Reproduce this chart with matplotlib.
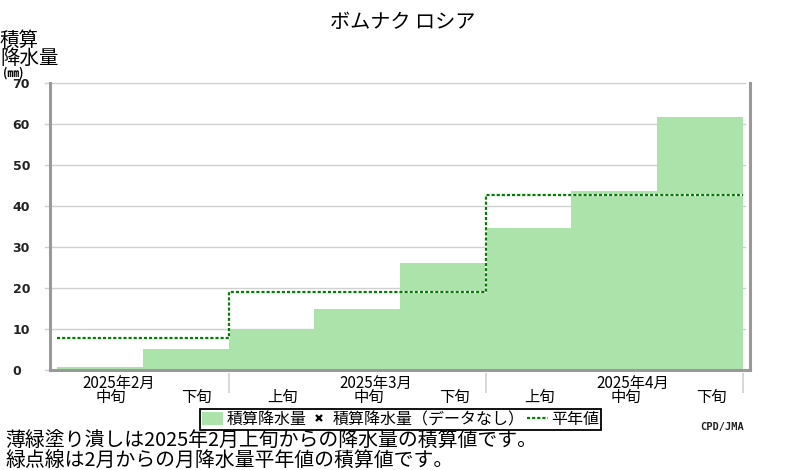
import numpy as np
import matplotlib
matplotlib.use('Agg')
import matplotlib.pyplot as plt
import matplotlib.transforms as mtransforms
from matplotlib.patches import Patch
from matplotlib.lines import Line2D

plt.rcParams['font.family'] = ['Noto Sans CJK JP', 'DejaVu Sans']

# du lieu doc tu hinh
tieu_de = 'ボムナク ロシア'
thang = ['2025年2月', '2025年3月', '2025年4月']
tuan = ['中旬', '下旬', '上旬', '中旬', '下旬', '上旬', '中旬', '下旬']
luong_mua = [0.8, 5.2, 10.0, 14.9, 26.1, 34.6, 43.7, 61.8]
binh_thuong = [7.7, 7.7, 19.1, 19.1, 19.1, 42.8, 42.8, 42.8]
y_ticks = [0, 10, 20, 30, 40, 50, 60, 70]

W, H = 800, 470
fig = plt.figure(figsize=(8, 4.7), dpi=100)
# truc: trai 50px, phai 750px, day 370px, dinh 83px
ax = fig.add_axes([50 / W, (H - 370) / H, 700 / W, 287 / H])

n = len(luong_mua)
x = np.arange(n)
ax.bar(x, luong_mua, width=1.0, align='edge', color='#ace3ab', zorder=2)

# duong binh thuong (bac thang, cham xanh)
xs = np.arange(n + 1)
ys = binh_thuong + [binh_thuong[-1]]
ax.step(xs, ys, where='post', color='white', lw=1.6, zorder=3)
ax.step(xs, ys, where='post', color='#008000', lw=1.6,
        linestyle=(0, (1.4, 0.9)), zorder=4)

ax.set_xlim(-0.082, n + 0.082)
ax.set_ylim(0, 70)

# luoi ngang
for v in y_ticks:
    ax.axhline(v, xmin=-5 / 700, xmax=695 / 700, color='#d0d0d0', lw=1,
               zorder=1, clip_on=False)

ax.set_yticks(y_ticks)
ax.set_yticklabels([str(v) for v in y_ticks], fontfamily='DejaVu Sans',
                   fontsize=9, fontweight='semibold', color='#222222')
for lb in ax.get_yticklabels():
    lb.set_horizontalalignment('left')
ax.tick_params(axis='y', length=0, pad=27)
ax.set_xticks([])

for s in ['left', 'right', 'bottom']:
    ax.spines[s].set_color('#999999')
    ax.spines[s].set_linewidth(2.2)
    ax.spines[s].set_zorder(5)
ax.spines['top'].set_visible(False)

# nhan tuan va thang duoi truc
tr = mtransforms.blended_transform_factory(ax.transData, fig.transFigure)
for i, t in enumerate(tuan):
    ax.text(i + 0.5 + 0.13, 1 - 397 / H, t, transform=tr, ha='center',
            va='center', fontsize=11)
vach = [i for i, t in enumerate(tuan) if t == '上旬'] + [n]
tra = ax.get_xaxis_transform()
ax.vlines(vach, -3 / 287, -23 / 287, transform=tra, color='#d0d0d0',
          lw=1.2, clip_on=False)
giua = [i for i, t in enumerate(tuan) if t == '中旬']
for i, m in zip(giua, thang):
    ax.text(i + 0.5 + 0.22, 1 - 383 / H, m, transform=tr, ha='center',
            va='center', fontsize=11)

# tieu de va nhan truc y
fig.text(403 / W, 1 - 22 / H, tieu_de, ha='center', va='center', fontsize=14.5)
fig.text(0, 1 - 40 / H, '積算', ha='left', va='center', fontsize=14)
fig.text(0, 1 - 58 / H, '降水量', ha='left', va='center', fontsize=14)
fig.text(3 / W, 1 - 73 / H, '(㎜)', ha='left', va='center', fontsize=8.5,
         fontweight='bold')

# chu giai
handles = [Patch(facecolor='#ace3ab', edgecolor='none'),
           Line2D([], [], marker='x', color='black', linestyle='none',
                  markersize=5, markeredgewidth=1.6),
           Line2D([], [], color='#008000', lw=1.6, linestyle=(0, (1.4, 0.9)))]
labels = ['積算降水量', '積算降水量（データなし）', '平年値']
leg = fig.legend(handles, labels, loc='center',
                 bbox_to_anchor=(400.5 / W, 1 - 419.5 / H), ncol=3,
                 fontsize=11.5, frameon=True, fancybox=False,
                 edgecolor='black', framealpha=1, borderpad=0.15,
                 handlelength=1.3, handleheight=0.8, handletextpad=0.2,
                 columnspacing=0.15, borderaxespad=0)
leg.get_frame().set_linewidth(1.3)

fig.text(700 / W, 1 - 427 / H, 'CPD/JMA', ha='left', va='center',
         fontsize=7.5, fontfamily='DejaVu Sans Mono', fontweight='bold',
         color='#222222')

fig.text(5 / W, 1 - 441 / H, '薄緑塗り潰しは2025年2月上旬からの降水量の積算値です。',
         ha='left', va='center', fontsize=14.3)
fig.text(5 / W, 1 - 460 / H, '緑点線は2月からの月降水量平年値の積算値です。',
         ha='left', va='center', fontsize=14.3)

fig.savefig('out.png', dpi=100)
